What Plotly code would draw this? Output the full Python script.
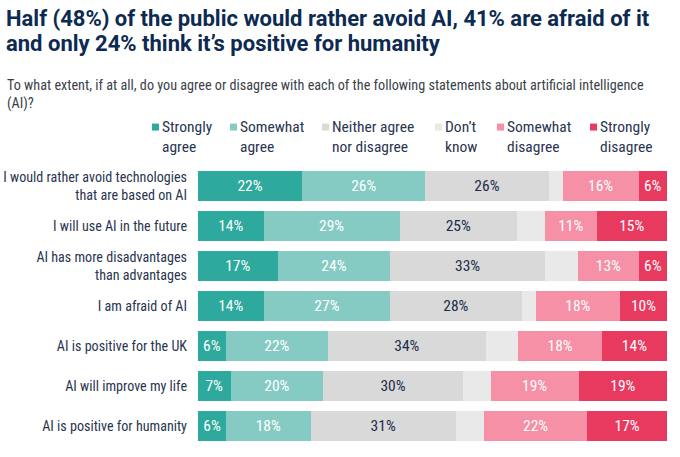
import plotly.graph_objects as go

statements = [
    "I would rather avoid technologies<br>that are based on AI",
    "I will use AI in the future",
    "AI has more disadvantages<br>than advantages",
    "I am afraid of AI",
    "AI is positive for the UK",
    "AI will improve my life",
    "AI is positive for humanity",
]
strongly_agree = [22, 14, 17, 14, 6, 7, 6]
somewhat_agree = [26, 29, 24, 27, 22, 20, 18]
neither = [26, 25, 33, 28, 34, 30, 31]
dont_know = [3, 6, 7, 3, 7, 6, 6]
somewhat_disagree = [16, 11, 13, 18, 18, 19, 22]
strongly_disagree = [6, 15, 6, 10, 14, 19, 17]

legend_names = ["Strongly<br>agree", "Somewhat<br>agree", "Neither agree<br>nor disagree",
                "Don’t<br>know", "Somewhat<br>disagree", "Strongly<br>disagree"]
colors = ["#2ea99d", "#86cbc3", "#d9d9d9", "#e9e9e9", "#f590a6", "#e8395f"]
text_colors = ["white", "white", "#1d2b4a", "#1d2b4a", "white", "white"]
show_text = [True, True, True, False, True, True]
values = [strongly_agree, somewhat_agree, neither, dont_know, somewhat_disagree, strongly_disagree]

title_lines = ["Half (48%) of the public would rather avoid AI, 41% are afraid of it",
               "and only 24% think it’s positive for humanity"]
subtitle = ("To what extent, if at all, do you agree or disagree with each of the following "
            "statements about artificial intelligence<br>(AI)?")

COND = "Roboto Condensed, Liberation Sans Narrow, sans-serif"
TITLEF = "Roboto, Liberation Sans, sans-serif"
NAVY = "#0c2a52"
LABEL = "#2a3550"

W, H = 680, 457
L = 198
R = W - 667
T = 166
B = H - 446.5
PW, PH = W - L - R, H - T - B


def px(x):  # screen px -> paper x
    return (x - L) / PW


def py(y):  # screen px -> paper y
    return (H - B - y) / PH


fig = go.Figure()
for name, vals, color, tcolor, show in zip(legend_names, values, colors, text_colors, show_text):
    fig.add_trace(go.Bar(
        y=statements, x=vals, name=name.replace("<br>", " "), orientation="h",
        marker=dict(color=color, line=dict(width=0)),
        text=[f"{v}%" for v in vals] if show else None,
        textposition="inside", insidetextanchor="middle", textangle=0,
        textfont=dict(color=tcolor, size=15.5, family=COND),
        hoverinfo="x+y", showlegend=False,
    ))

annotations = []
shapes = []
for i, line in enumerate(title_lines):
    annotations.append(dict(text=f"<b>{line}</b>", xref="paper", yref="paper",
                            x=px(4), xanchor="left", y=py(18.5 + i * 25), yanchor="middle",
                            showarrow=False, font=dict(size=22, color=NAVY, family=TITLEF)))
annotations.append(dict(text=subtitle, xref="paper", yref="paper", x=px(5), xanchor="left",
                        y=py(75), yanchor="top", showarrow=False, align="left",
                        font=dict(size=14.2, color="#3a3f4a", family=COND)))
legend_x = [152, 230, 322, 435, 497, 590]
for lx, name, color in zip(legend_x, legend_names, colors):
    shapes.append(dict(type="rect", xref="paper", yref="paper",
                       x0=px(lx), x1=px(lx + 7), y0=py(123.5), y1=py(130.5),
                       fillcolor=color, line=dict(width=0)))
    annotations.append(dict(text=name, xref="paper", yref="paper", x=px(lx + 8), xanchor="left",
                            y=py(116), yanchor="top", showarrow=False, align="left",
                            font=dict(size=15.5, color=LABEL, family=COND)))

fig.update_layout(
    barmode="stack", barnorm="percent",
    width=W, height=H,
    margin=dict(l=L, r=R, t=T, b=B, autoexpand=False),
    plot_bgcolor="white", paper_bgcolor="white",
    bargap=0.25,
    font=dict(family=COND, color=LABEL, size=15),
    showlegend=False,
    xaxis=dict(visible=False, range=[0, 100], fixedrange=True),
    yaxis=dict(autorange="reversed", showgrid=False, ticks="", automargin=False,
               ticklabelstandoff=10, tickfont=dict(size=14.1, color=LABEL, family=COND)),
    annotations=annotations,
    shapes=shapes,
)

fig.write_html("out.html", config={"displayModeBar": False},
               post_script="document.body.style.margin='0';")
